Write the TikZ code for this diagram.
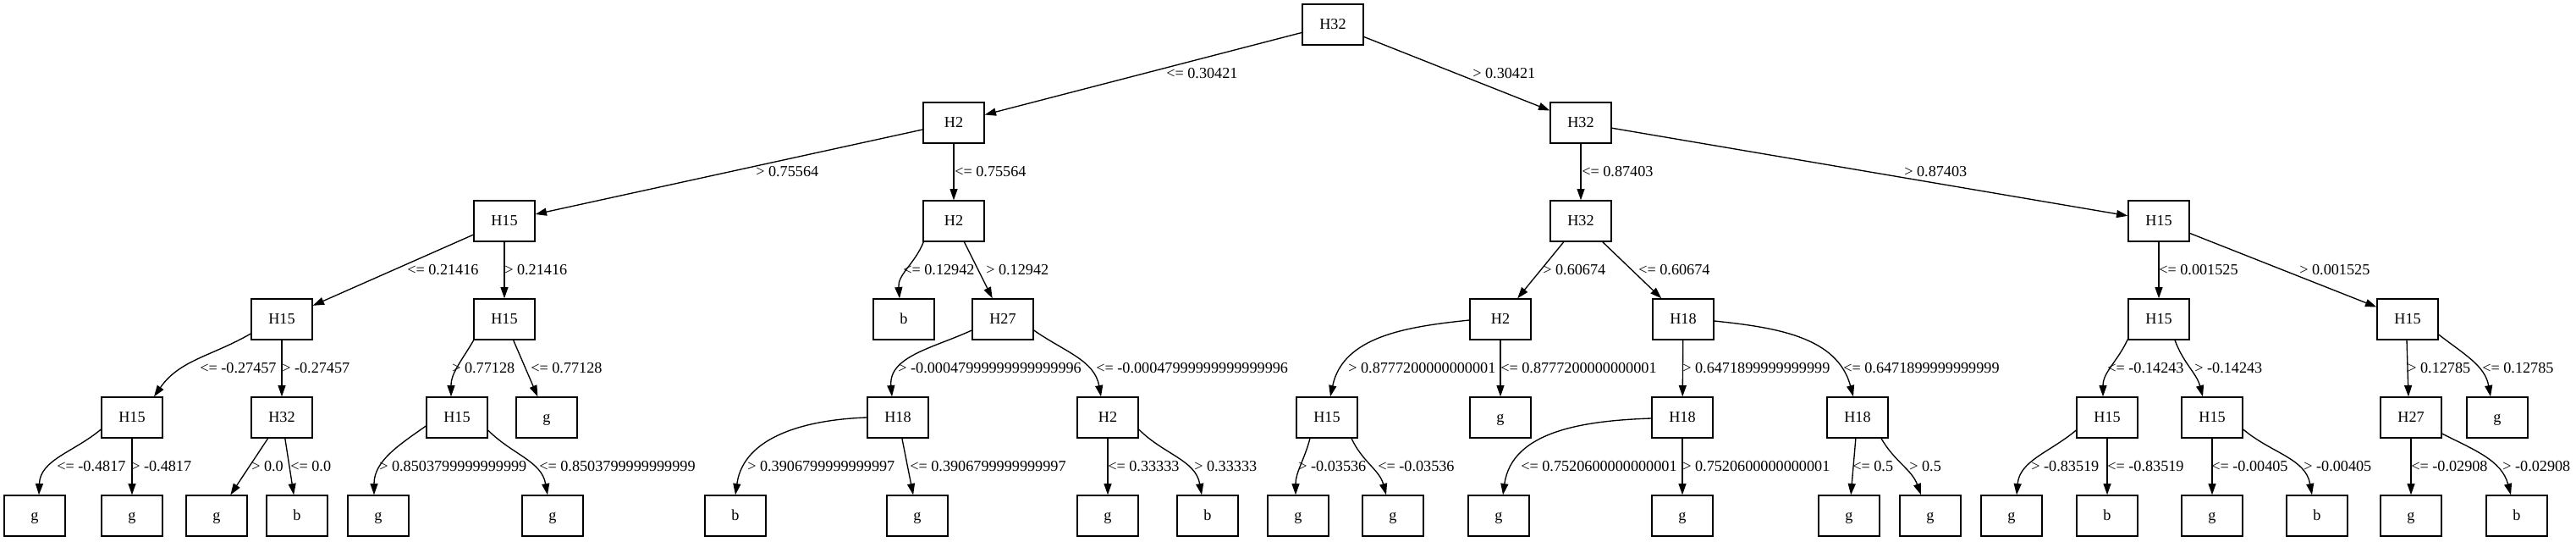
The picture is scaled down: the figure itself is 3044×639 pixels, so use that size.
\documentclass[tikz,border=0pt]{standalone}
\usepackage{fontspec}
\setmainfont{Liberation Serif}
\usetikzlibrary{arrows.meta,calc}
\begin{document}
\begin{tikzpicture}[x=0.75pt,y=0.75pt,
  box/.style={draw,line width=1pt,minimum width=54pt,minimum height=36pt,inner sep=0pt,
    text height=9pt,text depth=1.5pt,font=\fontsize{13.65}{16}\selectfont},
  lbl/.style={anchor=west,inner sep=0pt,text height=9.2pt,text depth=0pt,
    font=\fontsize{13.65}{16}\selectfont},
  edge/.style={line width=1pt,-{Triangle[length=10pt,width=6.75pt]}}
]
\useasboundingbox (0,0) rectangle (3044,-639);
% level 0
\node[box] (r) at (1575,-29) {H32};
% level 1
\node[box] (a) at (1127,-145) {H2};
\node[box] (b) at (1868,-145) {H32};
% level 2
\node[box] (aa) at (596,-261) {H15};
\node[box] (ab) at (1127,-261) {H2};
\node[box] (ba) at (1868,-261) {H32};
\node[box] (bb) at (2551,-261) {H15};
% level 3
\node[box] (aaa) at (333,-377) {H15};
\node[box] (aab) at (596,-377) {H15};
\node[box] (aba) at (1068,-377) {b};
\node[box] (abb) at (1185,-377) {H27};
\node[box] (baa) at (1773,-377) {H2};
\node[box] (bab) at (1989,-377) {H18};
\node[box] (bba) at (2551,-377) {H15};
\node[box] (bbb) at (2845,-377) {H15};
% level 4
\node[box] (aaaa) at (156,-493) {H15};
\node[box] (aaab) at (333,-493) {H32};
\node[box] (aaba) at (540,-493) {H15};
\node[box] (aabb) at (646,-493) {g};
\node[box] (abba) at (1061,-493) {H18};
\node[box] (abbb) at (1309,-493) {H2};
\node[box] (baaa) at (1568,-493) {H15};
\node[box] (baab) at (1773,-493) {g};
\node[box] (baba) at (1988,-493) {H18};
\node[box] (babb) at (2195,-493) {H18};
\node[box] (bbaa) at (2490,-493) {H15};
\node[box] (bbab) at (2614,-493) {H15};
\node[box] (bbba) at (2849,-493) {H27};
\node[box] (bbbb) at (2951,-493) {g};
% level 5
\node[box] (l1) at (41,-609) {g};
\node[box] (l2) at (156,-609) {g};
\node[box] (l3) at (256,-609) {g};
\node[box] (l4) at (351,-609) {b};
\node[box] (l5) at (447,-609) {g};
\node[box] (l6) at (653,-609) {g};
\node[box] (l7) at (869,-609) {b};
\node[box] (l8) at (1084,-609) {g};
\node[box] (l9) at (1309,-609) {g};
\node[box] (l10) at (1427,-609) {b};
\node[box] (l11) at (1534,-609) {g};
\node[box] (l12) at (1646,-609) {g};
\node[box] (l13) at (1771,-609) {g};
\node[box] (l14) at (1988,-609) {g};
\node[box] (l15) at (2185,-609) {g};
\node[box] (l16) at (2281,-609) {g};
\node[box] (l17) at (2377,-609) {g};
\node[box] (l18) at (2490,-609) {b};
\node[box] (l19) at (2614,-609) {g};
\node[box] (l20) at (2738,-609) {b};
\node[box] (l21) at (2849,-609) {g};
\node[box] (l22) at (2974,-609) {b};

% edges level 0-1
\draw[edge] (r) -- (a);
\draw[edge] (r) -- (b);
% level 1-2
\draw[edge] (a) -- (aa);
\draw[edge] (a) -- (ab);
\draw[edge] (b) -- (ba);
\draw[edge] (b) -- (bb);
% level 2-3
\draw[edge] (aa) -- (aaa);
\draw[edge] (aa) -- (aab);
\draw[edge] ($(ab.south west)+(1,0)$) to[out=-112,in=95] ($(aba.north)+(-5,0)$);
\draw[edge] (ab) -- (abb);
\draw[edge] (ba) -- (baa);
\draw[edge] (ba) -- (bab);
\draw[edge] (bb) -- (bba);
\draw[edge] (bb) -- (bbb);
% level 3-4
\draw[edge] ($(aaa.west)+(0,-17)$) to[out=-150,in=55] ($(aaaa.north)+(26,0)$);
\draw[edge] (aaa) -- (aaab);
\draw[edge] ($(aab.south west)+(1,1)$) to[out=-120,in=90] ($(aaba.north)+(-7,0)$);
\draw[edge] (aab) -- (aabb);
\draw[edge] ($(abb.west)+(0,-13)$) to[out=-155,in=95] ($(abba.north)+(-7,0)$);
\draw[edge] ($(abb.east)+(0,-13)$) to[out=-35,in=100] ($(abbb.north)+(-8,0)$);
\draw[edge] ($(baa.west)+(0,-1)$) to[out=-174,in=78] ($(baaa.north)+(4,0)$);
\draw[edge] (baa) -- (baab);
\draw[edge] (bab) -- (baba);
\draw[edge] ($(bab.east)+(0,-2)$) to[out=-6,in=105] ($(babb.north)+(-5,0)$);
\draw[edge] ($(bba.south west)+(0,1)$) to[out=-115,in=90] ($(bbaa.north)+(-5,0)$);
\draw[edge] ($(bba.south)+(19,0)$) to[out=-70,in=105] ($(bbab.north)+(-11,0)$);
\draw[edge] ($(bbb.south)+(-1,0)$) -- ($(bbba.north)+(-3,0)$);
\draw[edge] ($(bbb.east)+(0,-18)$) to[out=-38,in=100] ($(bbbb.north)+(-8,0)$);
% level 4-5
\draw[edge] ($(aaaa.west)+(0,-14)$) to[out=-140,in=88] ($(l1.north)+(5,0)$);
\draw[edge] (aaaa) -- (l2);
\draw[edge] (aaab) -- (l3);
\draw[edge] (aaab) -- (l4);
\draw[edge] ($(aaba.west)+(0,-10)$) to[out=-145,in=90] ($(l5.north)+(-5,0)$);
\draw[edge] ($(aaba.east)+(0,-15)$) to[out=-45,in=100] ($(l6.north)+(-6,0)$);
\draw[edge] ($(abba.west)+(0,0)$) to[out=-178,in=82] (l7.north);
\draw[edge] (abba) -- (l8);
\draw[edge] (abbb) -- (l9);
\draw[edge] ($(abbb.east)+(0,-14)$) to[out=-45,in=100] ($(l10.north)+(-7,0)$);
\draw[edge] ($(baaa.south)+(-20,0)$) to[out=-105,in=90] ($(l11.north)+(-3,0)$);
\draw[edge] ($(baaa.south)+(29,0)$) to[out=-65,in=105] ($(l12.north)+(-8,0)$);
\draw[edge] ($(baba.west)+(0,-1)$) to[out=-178,in=82] ($(l13.north)+(5,0)$);
\draw[edge] (baba) -- (l14);
\draw[edge] (babb) -- (l15);
\draw[edge] ($(babb.south)+(28,0)$) to[out=-60,in=110] ($(l16.north)+(-11,0)$);
\draw[edge] ($(bbaa.west)+(0,-15)$) to[out=-140,in=85] ($(l17.north)+(6,0)$);
\draw[edge] (bbaa) -- (l18);
\draw[edge] (bbab) -- (l19);
\draw[edge] ($(bbab.east)+(0,-14)$) to[out=-40,in=100] ($(l20.north)+(-6,0)$);
\draw[edge] (bbba) -- (l21);
\draw[edge] ($(bbba.east)+(0,-19)$) to[out=-27,in=105] ($(l22.north)+(-7,0)$);

% labels row 0
\node[lbl] (t01) at (1378,-86.5) {<= 0.30421};
\node[lbl] (t02) at (1740,-86.5) {> 0.30421};
% row 1
\node[lbl] (t11) at (893,-202) {> 0.75564};
\node[lbl] (t12) at (1128,-202) {<= 0.75564};
\node[lbl] (t13) at (1869,-202) {<= 0.87403};
\node[lbl] (t14) at (2250,-202) {> 0.87403};
% row 2
\node[lbl] (t21) at (481,-318) {<= 0.21416};
\node[lbl] (t22) at (596,-318) {> 0.21416};
\node[lbl] (t23) at (1067,-318) {<= 0.12942};
\node[lbl] (t24) at (1165,-318) {> 0.12942};
\node[lbl] (t25) at (1823,-318) {> 0.60674};
\node[lbl] (t26) at (1936,-318) {<= 0.60674};
\node[lbl] (t27) at (2551,-318) {<= 0.001525};
\node[lbl] (t28) at (2717,-318) {> 0.001525};
% row 3
\node[lbl] (t31) at (236,-434) {<= -0.27457};
\node[lbl] (t32) at (333,-434) {> -0.27457};
\node[lbl] (t33) at (534,-434) {> 0.77128};
\node[lbl] (t34) at (627,-434) {<= 0.77128};
\node[lbl] (t35) at (1061,-434) {> -0.00047999999999999996};
\node[lbl] (t36) at (1295,-434) {<= -0.00047999999999999996};
\node[lbl] (t37) at (1593,-434) {> 0.8777200000000001};
\node[lbl] (t38) at (1773,-434) {<= 0.8777200000000001};
\node[lbl] (t39) at (1988,-434) {> 0.6471899999999999};
\node[lbl] (t310) at (2178,-434) {<= 0.6471899999999999};
\node[lbl] (t311) at (2490,-434) {<= -0.14243};
\node[lbl] (t312) at (2593,-434) {> -0.14243};
\node[lbl] (t313) at (2845,-434) {> 0.12785};
\node[lbl] (t314) at (2933,-434) {<= 0.12785};
% row 4
\node[lbl] (t41) at (67,-550) {<= -0.4817};
\node[lbl] (t42) at (155,-550) {> -0.4817};
\node[lbl] (t43) at (297,-550) {> 0.0};
\node[lbl] (t44) at (343,-550) {<= 0.0};
\node[lbl] (t45) at (448,-550) {> 0.8503799999999999};
\node[lbl] (t46) at (637,-550) {<= 0.8503799999999999};
\node[lbl] (t47) at (883,-550) {> 0.3906799999999997};
\node[lbl] (t48) at (1075,-550) {<= 0.3906799999999997};
\node[lbl] (t49) at (1309,-550) {<= 0.33333};
\node[lbl] (t410) at (1411,-550) {> 0.33333};
\node[lbl] (t411) at (1534,-550) {> -0.03536};
\node[lbl] (t412) at (1628,-550) {<= -0.03536};
\node[lbl] (t413) at (1797,-550) {<= 0.7520600000000001};
\node[lbl] (t414) at (1988,-550) {> 0.7520600000000001};
\node[lbl] (t415) at (2189,-550) {<= 0.5};
\node[lbl] (t416) at (2256,-550) {> 0.5};
\node[lbl] (t417) at (2400,-550) {> -0.83519};
\node[lbl] (t418) at (2490,-550) {<= -0.83519};
\node[lbl] (t419) at (2613,-550) {<= -0.00405};
\node[lbl] (t420) at (2722,-550) {> -0.00405};
\node[lbl] (t421) at (2849,-550) {<= -0.02908};
\node[lbl] (t422) at (2957,-550) {> -0.02908};
\end{tikzpicture}
\end{document}
